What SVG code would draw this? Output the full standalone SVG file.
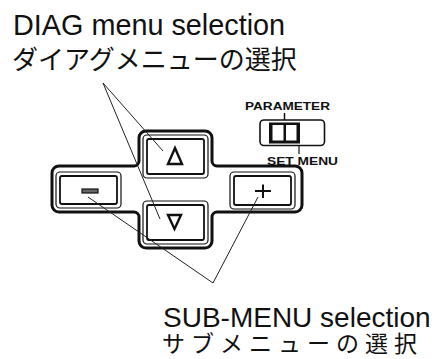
<svg xmlns="http://www.w3.org/2000/svg" width="444" height="359" viewBox="0 0 444 359">
<style>
.lbl{font-family:"Liberation Sans",Arial,sans-serif;fill:#111}
.jp{font-family:"Noto Sans CJK JP","Noto Sans CJK SC",sans-serif;fill:#111}
.sm{font-family:"Liberation Sans",Arial,sans-serif;font-weight:bold;fill:#111}
.btnO{fill:#fff;stroke:#111;stroke-width:1.2}
.btnI{fill:#fff;stroke:#111;stroke-width:1.8}
.lead{fill:none;stroke:#222;stroke-width:1}
.sym{fill:none;stroke:#111;stroke-width:2.4}
</style>
<rect width="444" height="359" fill="#fff"/>
<g id="labels">
<text class="lbl" x="13" y="35" font-size="28.8">DIAG menu selection</text>
<text class="jp" x="12" y="69" font-size="26">ダイアグメニューの選択</text>
<text class="lbl" x="163" y="327" font-size="28">SUB-MENU selection</text>
<text class="jp" x="162" y="352" font-size="23" letter-spacing="6">サブメニューの選択</text>
</g>
<g id="keypad">
<path d="M146,131 H205 A7,7 0 0 1 212,138 V161 A5,5 0 0 0 217,166 H295 A7,7 0 0 1 302,173 V205 A7,7 0 0 1 295,212 H217 A5,5 0 0 0 212,217 V241 A7,7 0 0 1 205,248 H146 A7,7 0 0 1 139,241 V217 A5,5 0 0 0 134,212 H59 A7,7 0 0 1 52,205 V173 A7,7 0 0 1 59,166 H134 A5,5 0 0 0 139,161 V138 A7,7 0 0 1 146,131 Z" fill="#fff" stroke="#111" stroke-width="3"/>
</g>
<g id="btn-up">
<rect class="btnO" x="143" y="135" width="65" height="43" rx="4"/>
<rect class="btnI" x="147" y="139" width="57" height="35" rx="2"/>
<path class="sym" d="M175,148 L182,164 H168 Z"/>
</g>
<g id="btn-down">
<rect class="btnO" x="143" y="201" width="65" height="43" rx="4"/>
<rect class="btnI" x="147" y="205" width="57" height="35" rx="2"/>
<path class="sym" d="M168,215 H181 L174.5,229 Z"/>
</g>
<g id="btn-minus">
<rect class="btnO" x="56" y="172" width="65" height="36" rx="4"/>
<rect class="btnI" x="60" y="176" width="57" height="28" rx="2"/>
<rect x="82" y="189" width="16" height="4" fill="#666" stroke="#111" stroke-width="1.2"/>
</g>
<g id="btn-plus">
<rect class="btnO" x="230" y="172" width="65" height="37" rx="4"/>
<rect class="btnI" x="234" y="176" width="57" height="29" rx="2"/>
<path d="M255,191 H271 M263,184.5 V198" fill="none" stroke="#111" stroke-width="2"/>
</g>
<g id="switch">
<text class="sm" x="245" y="110" font-size="10.5" textLength="85" lengthAdjust="spacingAndGlyphs">PARAMETER</text>
<line x1="284.5" y1="113" x2="284.5" y2="120" stroke="#111" stroke-width="1.5"/>
<rect x="260" y="120" width="64.5" height="25.5" rx="4" fill="#fff" stroke="#111" stroke-width="1.6"/>
<rect x="269" y="122.5" width="31" height="21" fill="#111"/>
<rect x="272.5" y="125" width="11" height="15.5" fill="#fff"/>
<rect x="286" y="125" width="10.5" height="15.5" fill="#fff"/>
<line x1="299" y1="145" x2="299" y2="154" stroke="#111" stroke-width="1.2"/>
<text class="sm" x="267" y="165" font-size="11" textLength="71" lengthAdjust="spacingAndGlyphs">SET MENU</text>
</g>
<g id="connectors">
<path class="lead" d="M163,151 L103,83 L160,219"/>
<path class="lead" d="M88,197 L213,283 L258,197"/>
</g>
</svg>
